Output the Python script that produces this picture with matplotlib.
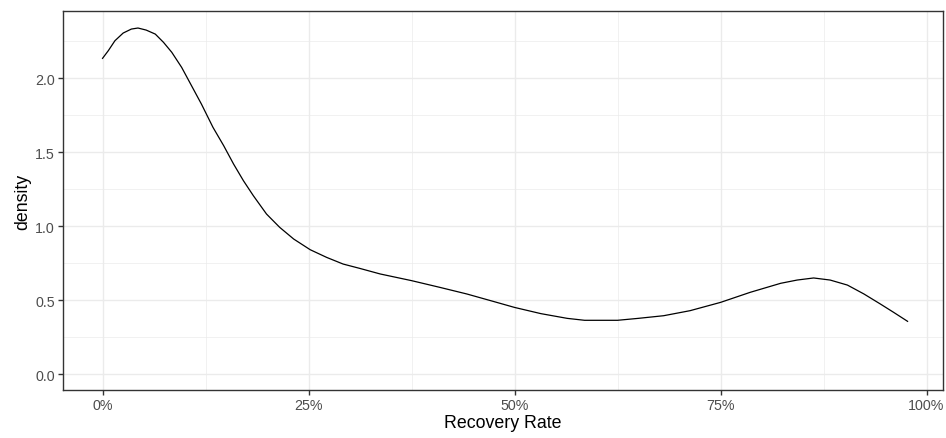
import matplotlib
matplotlib.use("Agg")
import matplotlib.pyplot as plt
from matplotlib.ticker import FixedLocator, PercentFormatter

plt.rcParams['font.family'] = ['Liberation Sans', 'DejaVu Sans']

# Values
recovery_rate = [0.000, 0.007, 0.015, 0.025, 0.035, 0.043, 0.053, 0.064, 0.074,
                 0.084, 0.096, 0.108, 0.120, 0.134, 0.147, 0.159, 0.171, 0.183,
                 0.199, 0.215, 0.232, 0.252, 0.272, 0.292, 0.312, 0.337, 0.375,
                 0.409, 0.442, 0.474, 0.500, 0.532, 0.564, 0.585, 0.625, 0.650,
                 0.681, 0.713, 0.750, 0.786, 0.823, 0.843, 0.863, 0.883, 0.904,
                 0.924, 0.944, 0.960, 0.977]
density = [2.133, 2.185, 2.252, 2.304, 2.331, 2.338, 2.324, 2.297, 2.241,
           2.174, 2.072, 1.948, 1.824, 1.667, 1.543, 1.419, 1.306, 1.205,
           1.081, 0.991, 0.912, 0.840, 0.788, 0.743, 0.714, 0.676, 0.631,
           0.586, 0.541, 0.491, 0.450, 0.408, 0.376, 0.363, 0.363, 0.376,
           0.394, 0.428, 0.484, 0.552, 0.613, 0.635, 0.649, 0.635, 0.601,
           0.541, 0.473, 0.417, 0.356]

x_major = [0, 0.25, 0.5, 0.75, 1.0]
x_minor = [0.125, 0.375, 0.625, 0.875]
y_major = [0.0, 0.5, 1.0, 1.5, 2.0]
y_minor = [0.25, 0.75, 1.25, 1.75, 2.25]

fig = plt.figure(figsize=(9.46, 4.39), dpi=100)
ax = fig.add_axes([63/946, 1-391/439, (943-63)/946, (391-12)/439])

ax.plot(recovery_rate, density, color='black', lw=0.9, zorder=3,
        solid_joinstyle='round')

ax.set_xlim(-0.048, 1.020)
ax.set_ylim(-0.108, 2.453)

ax.xaxis.set_major_locator(FixedLocator(x_major))
ax.xaxis.set_minor_locator(FixedLocator(x_minor))
ax.yaxis.set_major_locator(FixedLocator(y_major))
ax.yaxis.set_minor_locator(FixedLocator(y_minor))
ax.xaxis.set_major_formatter(PercentFormatter(1.0, decimals=0))
ax.yaxis.set_major_formatter(plt.FuncFormatter(lambda v, p: f"{v:.1f}"))

ax.grid(which='major', color='#ebebeb', lw=1.0, zorder=0)
ax.grid(which='minor', color='#ebebeb', lw=0.5, zorder=0)
ax.set_axisbelow(True)

for s in ax.spines.values():
    s.set_color('#333333')
    s.set_linewidth(1.0)

ax.tick_params(which='major', length=3.5, width=1.0, color='#333333',
               labelsize=10.3, labelcolor='#4d4d4d', pad=2.5)
ax.tick_params(which='minor', length=0)

ax.set_xlabel('Recovery Rate', fontsize=12.8, color='black', labelpad=1)
ax.set_ylabel('density', fontsize=12.8, color='black', labelpad=3)

fig.savefig('out.png', dpi=100, facecolor='white')
